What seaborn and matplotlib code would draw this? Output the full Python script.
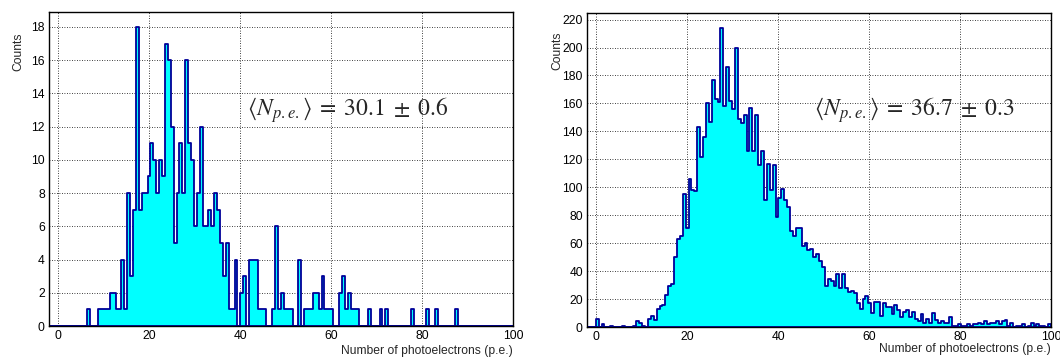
import numpy as np
import pandas as pd
import matplotlib
matplotlib.use("Agg")
import matplotlib.pyplot as plt
import seaborn as sns
from matplotlib.ticker import MultipleLocator

# Common binning of both spectra: 160 bins on [-2, 100] p.e.
x_lo, x_hi, n_bins = -2.0, 100.0, 160

# Counts per bin, left spectrum (20 bins per row)
counts_left = [
    0, 0, 0, 0, 0, 0, 0, 0, 0, 0, 0, 0, 0, 1, 0, 0, 0, 1, 1, 1,
    1, 2, 2, 1, 1, 4, 1, 8, 3, 7, 18, 7, 8, 8, 9, 11, 10, 8, 10, 9,
    17, 16, 12, 5, 8, 11, 8, 16, 11, 10, 6, 8, 12, 6, 6, 7, 6, 8, 7, 5,
    3, 5, 1, 1, 4, 0, 2, 3, 0, 4, 4, 4, 1, 1, 1, 0, 0, 1, 6, 1,
    2, 1, 1, 1, 0, 0, 4, 0, 1, 1, 1, 2, 2, 1, 3, 1, 1, 1, 0, 0,
    2, 3, 1, 2, 1, 1, 1, 0, 0, 0, 1, 0, 0, 0, 1, 0, 1, 0, 0, 0,
    0, 0, 0, 0, 0, 1, 0, 0, 0, 0, 1, 0, 0, 1, 0, 0, 0, 0, 0, 0,
    1, 0, 0, 0, 0, 0, 0, 0, 0, 0, 0, 0, 0, 0, 0, 0, 0, 0, 0, 0,
]

# Counts per bin, right spectrum (20 bins per row)
counts_right = [
    0, 0, 0, 6, 0, 2, 0, 0, 1, 0, 0, 0, 1, 0, 0, 0, 1, 4, 3, 1,
    0, 6, 8, 5, 13, 15, 16, 23, 29, 31, 50, 63, 65, 95, 71, 106, 98, 97, 143, 122,
    136, 160, 147, 177, 163, 161, 214, 158, 186, 162, 156, 200, 149, 146, 152, 126, 157, 126, 152, 116,
    126, 91, 117, 98, 116, 79, 92, 99, 91, 86, 69, 65, 71, 71, 58, 60, 55, 56, 50, 52,
    47, 43, 29, 34, 33, 29, 38, 28, 38, 28, 25, 26, 24, 17, 13, 20, 22, 17, 10, 18,
    18, 8, 17, 14, 14, 9, 16, 12, 7, 11, 12, 7, 11, 6, 4, 9, 3, 6, 3, 10,
    5, 3, 4, 3, 3, 7, 1, 1, 2, 1, 1, 2, 1, 2, 2, 3, 2, 4, 2, 3,
    3, 4, 2, 4, 5, 1, 3, 0, 1, 1, 2, 0, 1, 3, 1, 2, 1, 1, 0, 2,
]

mean_labels = [
    r"$\left\langle N_{p.e.}\right\rangle \;=\; 30.1 \;\pm\; 0.6$",
    r"$\left\langle N_{p.e.}\right\rangle \;=\; 36.7 \;\pm\; 0.3$",
]
x_title = "Number of photoelectrons (p.e.)"
y_title = "Counts"

sns.set_style("white")
plt.rcParams["font.family"] = ["Liberation Sans", "DejaVu Sans"]
plt.rcParams["mathtext.fontset"] = "stix"

edges = np.linspace(x_lo, x_hi, n_bins + 1)
centers = 0.5 * (edges[:-1] + edges[1:])

fig = plt.figure(figsize=(10.6, 3.57), dpi=100)
ax_l = fig.add_axes([0.0462, 0.0868, 0.4377, 0.8796])
ax_r = fig.add_axes([0.5538, 0.0840, 0.4377, 0.8796])

panels = [
    (ax_l, counts_left, mean_labels[0], 2, 0.4, (41.5, 13.0), (-0.052, 0.936), -0.060),
    (ax_r, counts_right, mean_labels[1], 20, 4, (48.0, 155), (-0.050, 0.940), -0.051),
]

for ax, counts, label, ymaj, ymin, txt_xy, ylab_xy, xlab_y in panels:
    df = pd.DataFrame({"npe": centers, "n": counts})
    sns.histplot(
        data=df, x="npe", weights="n", bins=edges.tolist(), element="step",
        fill=True, color="#00ffff", edgecolor="#000099", linewidth=1.3,
        alpha=1, ax=ax,
    )
    ax.set_xlim(x_lo, x_hi)
    ax.set_ylim(0, max(counts) * 1.05)

    ax.xaxis.set_major_locator(MultipleLocator(20))
    ax.xaxis.set_minor_locator(MultipleLocator(5))
    ax.yaxis.set_major_locator(MultipleLocator(ymaj))
    ax.yaxis.set_minor_locator(MultipleLocator(ymin))
    ax.tick_params(which="both", direction="in", top=False, right=False,
                   labelsize=8.7, width=0.8, colors="black", pad=3)
    ax.tick_params(which="major", length=6)
    ax.tick_params(which="minor", length=3)

    ax.set_axisbelow(True)
    ax.grid(True, which="major", color="black", linestyle=(0, (1, 2)),
            linewidth=0.6)
    for sp in ax.spines.values():
        sp.set_color("black")
        sp.set_linewidth(1.0)

    ax.set_xlabel(x_title, loc="right", fontsize=8.7)
    ax.xaxis.set_label_coords(1.0, xlab_y)
    ax.set_ylabel(y_title, loc="top", fontsize=8.7)
    ax.yaxis.set_label_coords(*ylab_xy)

    ax.text(txt_xy[0], txt_xy[1], label, fontsize=17, ha="left", va="center")

fig.savefig("out.png", dpi=100)
